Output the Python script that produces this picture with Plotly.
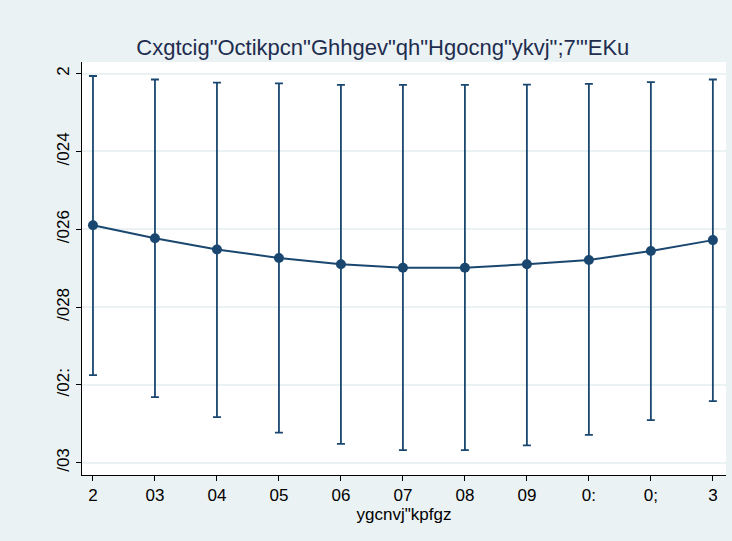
import plotly.graph_objects as go

# Data
wealth = [0.0, 0.1, 0.2, 0.3, 0.4, 0.5, 0.6, 0.7, 0.8, 0.9, 1.0]
effect = [-0.0390, -0.0423, -0.0452, -0.0474, -0.0490, -0.0499, -0.0499, -0.0490, -0.0479, -0.0456, -0.0428]
ci_upper = [-0.0006, -0.0015, -0.0023, -0.0025, -0.0029, -0.0029, -0.0029, -0.0028, -0.0026, -0.0022, -0.0015]
ci_lower = [-0.0775, -0.0832, -0.0883, -0.0923, -0.0952, -0.0968, -0.0968, -0.0956, -0.0929, -0.0891, -0.0842]

x_tickvals = [0.0, 0.1, 0.2, 0.3, 0.4, 0.5, 0.6, 0.7, 0.8, 0.9, 1.0]
x_ticktext = ["2", "03", "04", "05", "06", "07", "08", "09", "0:", "0;", "3"]
y_tickvals = [0.0, -0.02, -0.04, -0.06, -0.08, -0.1]
y_ticktext = ["2", "/024", "/026", "/028", "/02:", "/03"]

title_text = 'Cxgtcig"Octikpcn"Ghhgev"qh"Hgocng"ykvj";7\'"EKu'
x_title = 'ygcnvj"kpfgz'

navy = "#1a476f"
bg = "rgb(234,242,243)"

err_plus = [u - e for u, e in zip(ci_upper, effect)]
err_minus = [e - l for e, l in zip(effect, ci_lower)]

fig = go.Figure()
fig.add_trace(go.Scatter(
    x=wealth, y=effect, mode="lines+markers",
    line=dict(color=navy, width=2),
    marker=dict(color=navy, size=10),
    error_y=dict(type="data", symmetric=False, array=err_plus, arrayminus=err_minus,
                 color=navy, thickness=1.8, width=4),
    showlegend=False,
))

fig.update_layout(
    width=732, height=541,
    margin=dict(l=82, r=6, t=62, b=66, autoexpand=False),
    paper_bgcolor=bg, plot_bgcolor="white",
    font=dict(family="Liberation Sans, Arial, sans-serif", color="black", size=17),
    title=dict(text=title_text, x=0.523, xanchor="center", y=0.913, yanchor="middle",
               font=dict(size=22, color="#1e2d4f")),
)
fig.update_xaxes(
    automargin=False,
    range=[-0.0177, 1.0212], tickvals=x_tickvals, ticktext=x_ticktext,
    showgrid=False, zeroline=False, showline=True, linecolor="black", linewidth=1,
    ticks="outside", ticklen=5, tickcolor="black",
    title=dict(text=x_title, standoff=0, font=dict(size=17)),
)
fig.update_yaxes(
    automargin=False,
    range=[-0.1032, 0.0030], tickvals=y_tickvals, ticktext=y_ticktext, tickangle=-90,
    showgrid=True, gridcolor=bg, gridwidth=1.5, zeroline=False,
    showline=True, linecolor="black", linewidth=1,
    ticks="outside", ticklen=5, tickcolor="black",
)

fig.write_html("out.html",
               config={"displayModeBar": False},
               post_script="document.body.style.margin='0';document.body.style.overflow='hidden';")
